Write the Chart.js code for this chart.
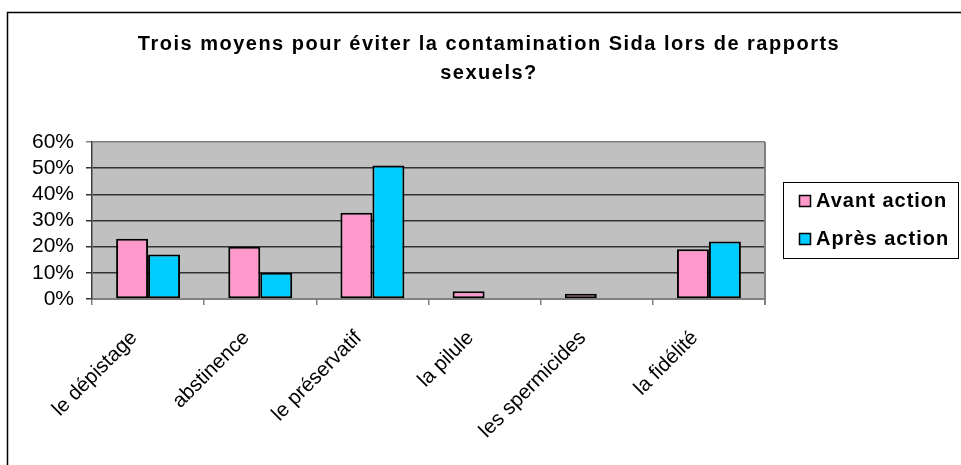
<!DOCTYPE html>
<html><head><meta charset="utf-8">
<script src="https://cdn.jsdelivr.net/npm/chart.js@4"></script>
<style>html,body{margin:0;padding:0;background:#fff;overflow:hidden}</style>
</head><body>
<div style="position:relative;width:961px;height:465px"><canvas id="c" width="961" height="465"></canvas></div>
<script>
const titleLines = ["Trois moyens pour éviter la contamination Sida lors de rapports", "sexuels?"];
const categories = ["le dépistage", "abstinence", "le préservatif", "la pilule", "les spermicides", "la fidélité"];
const seriesNames = ["Avant action", "Après action"];
const avantAction = [23, 20, 33, 3, 2, 19];
const apresAction = [17, 10, 51, 0, 0, 22];
const yTicks = [0, 10, 20, 30, 40, 50, 60];
const seriesColors = ["#FF99CC", "#00CCFF"];

const FONT = "'Liberation Sans', Arial, sans-serif";

const bgPlugin = {
  id: 'bg',
  beforeDraw(chart) {
    const ctx = chart.ctx, a = chart.chartArea;
    ctx.save();
    ctx.fillStyle = '#fff';
    ctx.fillRect(0, 0, chart.width, chart.height);
    ctx.fillStyle = '#C0C0C0';
    ctx.fillRect(a.left, a.top, a.right - a.left, a.bottom - a.top);
    ctx.strokeStyle = '#000';
    ctx.lineWidth = 1.5;
    ctx.beginPath();
    ctx.moveTo(7.5, chart.height + 5);
    ctx.lineTo(7.5, 12.5);
    ctx.lineTo(chart.width + 5, 12.5);
    ctx.stroke();
    ctx.restore();
  },
  beforeDatasetsDraw(chart) {
    const ctx = chart.ctx, a = chart.chartArea;
    ctx.save();
    ctx.strokeStyle = '#808080';
    ctx.lineWidth = 2;
    ctx.beginPath();
    ctx.moveTo(a.right, a.top);
    ctx.lineTo(a.right, a.bottom + 6);
    ctx.stroke();
    ctx.restore();
  }
};

const titleLegendPlugin = {
  id: 'titleLegend',
  afterDraw(chart) {
    const ctx = chart.ctx;
    ctx.save();
    ctx.fillStyle = '#000';
    ctx.font = 'bold 20px ' + FONT;
    ctx.letterSpacing = '1.5px';
    ctx.textAlign = 'center';
    ctx.textBaseline = 'middle';
    titleLines.forEach((t, i) => ctx.fillText(t, 489, 44 + i * 29));
    ctx.fillStyle = '#fff';
    ctx.fillRect(783.5, 182.5, 175, 76);
    ctx.strokeStyle = '#000';
    ctx.lineWidth = 1;
    ctx.strokeRect(783.5, 182.5, 175, 76);
    chart.data.datasets.forEach((ds, i) => {
      const y = 201 + i * 38;
      ctx.fillStyle = ds.backgroundColor;
      ctx.fillRect(799.5, y - 5.5, 11, 11);
      ctx.strokeStyle = '#000';
      ctx.lineWidth = 1.5;
      ctx.strokeRect(799.5, y - 5.5, 11, 11);
      ctx.fillStyle = '#000';
      ctx.textAlign = 'left';
      ctx.textBaseline = 'middle';
      ctx.font = 'bold 20px ' + FONT;
      ctx.letterSpacing = '1px';
      ctx.fillText(ds.label, 816, y);
    });
    ctx.restore();
  }
};

new Chart(document.getElementById('c'), {
  type: 'bar',
  data: {
    labels: categories,
    datasets: [
      { label: seriesNames[0], data: avantAction, backgroundColor: seriesColors[0] },
      { label: seriesNames[1], data: apresAction, backgroundColor: seriesColors[1] }
    ]
  },
  options: {
    responsive: false,
    animation: false,
    devicePixelRatio: 1,
    layout: { padding: { left: 0, top: 142, right: 196, bottom: 0 } },
    datasets: {
      bar: {
        barPercentage: 1.0,
        categoryPercentage: 0.57,
        borderColor: '#000',
        borderWidth: ctx => (ctx.raw ? 2 : 0),
        borderSkipped: false
      }
    },
    plugins: { legend: { display: false }, title: { display: false }, tooltip: { enabled: false } },
    scales: {
      x: {
        afterFit: s => { s.height = 166; },
        grid: { offset: true, drawOnChartArea: false, drawTicks: true, tickLength: 6, color: '#808080', lineWidth: 1.5 },
        border: { display: true, color: '#808080', width: 2 },
        ticks: { autoSkip: false, maxRotation: 45, minRotation: 45, color: '#000', padding: 21, labelOffset: -14, font: { family: FONT, size: 20.5 } }
      },
      y: {
        min: 0, max: 60,
        afterFit: s => { s.width = 92; },
        afterBuildTicks: s => { s.ticks = yTicks.map(v => ({ value: v })); },
        grid: { color: c => (c.tick && c.tick.value === 60 ? '#808080' : '#333333'), lineWidth: 1.5, tickLength: 6, drawTicks: true },
        border: { display: true, color: '#404040', width: 1.5 },
        ticks: { autoSkip: false, padding: 12, color: '#000', font: { family: FONT, size: 21 }, callback: v => v + '%' }
      }
    }
  },
  plugins: [bgPlugin, titleLegendPlugin]
});
</script>
</body></html>
